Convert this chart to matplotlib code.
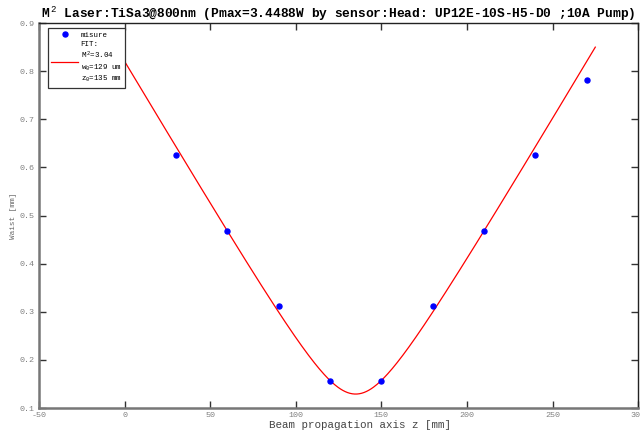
import numpy as np
import matplotlib.pyplot as plt
from matplotlib.lines import Line2D

# measured waist vs position
z_meas = [30, 60, 90, 120, 150, 180, 210, 240, 270]
w_meas = [0.625, 0.468, 0.312, 0.156, 0.156, 0.312, 0.468, 0.625, 0.781]

# fit parameters (from legend)
m2 = 3.04
w0 = 0.129      # mm
z0 = 135.0      # mm
lam = 800e-6    # mm
z_fit_range = [0, 275]

xticks = [-50, 0, 50, 100, 150, 200, 250, 300]
yticks = [0.1, 0.2, 0.3, 0.4, 0.5, 0.6, 0.7, 0.8, 0.9]

plt.rcParams['font.family'] = ['Liberation Mono', 'DejaVu Sans Mono']
plt.rcParams['mathtext.fontset'] = 'custom'
plt.rcParams['mathtext.rm'] = 'Liberation Mono'

zr = np.pi * w0 ** 2 / (m2 * lam)
z_fit = np.linspace(z_fit_range[0], z_fit_range[1], 400)
w_fit = w0 * np.sqrt(1 + ((z_fit - z0) / zr) ** 2)

fig = plt.figure(figsize=(6.4, 4.33), dpi=100)
ax = fig.add_axes([0.061, 0.0577, 0.936, 0.889])

ax.plot(z_fit, w_fit, color='red', lw=0.9)
ax.plot(z_meas, w_meas, 'o', color='blue', ms=3.6, zorder=3)

ax.set_xlim(-50, 300)
ax.set_ylim(0.1, 0.9)
ax.set_xticks(xticks)
ax.set_yticks(yticks)
ax.set_xticklabels([str(t) for t in xticks])
ax.set_yticklabels(['%.1f' % t for t in yticks])
ax.tick_params(direction='in', length=5, width=1, top=True, right=True,
               labelsize=6, labelcolor='#808080', color='#333333', pad=3)

for s in ['left', 'bottom']:
    ax.spines[s].set_color('#777777')
    ax.spines[s].set_linewidth(1.8)
for s in ['top', 'right']:
    ax.spines[s].set_color('#222222')
    ax.spines[s].set_linewidth(1.0)

ax.set_xlabel('Beam propagation axis z [mm]', fontsize=7.8, color='#444444', labelpad=0)
ax.xaxis.set_label_coords(0.536, -0.031, transform=ax.transAxes)
ax.xaxis.label.set_va('top')
ax.set_ylabel('Waist [mm]', fontsize=5.5, color='#666666', labelpad=2)
ax.set_title('M$^{\\,2}$ Laser:TiSa3@800nm (Pmax=3.4488W by sensor:Head: UP12E-10S-H5-D0 ;10A Pump)',
             fontsize=9.3, fontweight='bold', pad=4, x=0.5)

handles = [Line2D([], [], ls='none', marker='o', color='blue', ms=3.6),
           Line2D([], [], color='red', lw=0.9)]
labels = ['misure',
          'FIT:\nM$^{\\,2}$=3.04\nw$_{0}$=129 um\nz$_{0}$=135 mm']
leg = ax.legend(handles, labels, loc='upper left', bbox_to_anchor=(0.012, 0.992),
                fontsize=5.4, fancybox=False, framealpha=1, edgecolor='#333333',
                handlelength=3.6, handletextpad=0.3, borderpad=0.5,
                labelspacing=0.3, borderaxespad=0.2)
leg.get_frame().set_linewidth(0.9)

fig.savefig('out.png', dpi=100)
